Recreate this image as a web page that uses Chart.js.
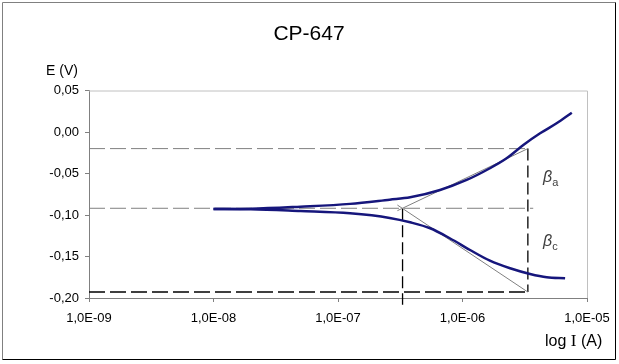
<!DOCTYPE html>
<html>
<head>
<meta charset="utf-8">
<script src="https://cdn.jsdelivr.net/npm/chart.js@4.4.1/dist/chart.umd.min.js"></script>
<style>
  html, body { margin: 0; padding: 0; background: #ffffff; }
  canvas { display: block; }
</style>
</head>
<body>
<canvas id="c" width="619" height="364"></canvas>
<script>
// ---- data ----
const xTicks = [1e-9, 1e-8, 1e-7, 1e-6, 1e-5];
const xTickLabels = ['1,0E-09', '1,0E-08', '1,0E-07', '1,0E-06', '1,0E-05'];
const yTicks = [-0.20, -0.15, -0.10, -0.05, 0.00, 0.05];
const yTickLabels = ['-0,20', '-0,15', '-0,10', '-0,05', '0,00', '0,05'];

// anodic branch (upper curve)
const anodicI = [1.0e-8, 2.0e-8, 5.0e-8, 1.25e-7, 2.6e-7, 3.8e-7, 6.6e-7, 1.08e-6, 1.66e-6, 2.26e-6, 3.08e-6, 4.2e-6, 5.7e-6, 7.55e-6];
const anodicE = [-0.0928, -0.0925, -0.0900, -0.0866, -0.0815, -0.0787, -0.0699, -0.0578, -0.0437, -0.0317, -0.0157, -0.0016, 0.0105, 0.0233];
// cathodic branch (lower curve)
const cathodicI = [1.0e-8, 2.0e-8, 5.0e-8, 1.25e-7, 2.6e-7, 3.8e-7, 5.5e-7, 7.9e-7, 1.15e-6, 1.66e-6, 2.41e-6, 3.49e-6, 4.75e-6, 6.67e-6];
const cathodicE = [-0.0928, -0.0930, -0.0952, -0.0980, -0.1035, -0.1088, -0.1160, -0.1280, -0.1422, -0.1551, -0.1642, -0.1711, -0.1751, -0.1763];

// Tafel construction
const tafelAnodicI = [3.0e-7, 3.35e-6];
const tafelAnodicE = [-0.0948, -0.0200];
const tafelCathodicI = [3.0e-7, 3.35e-6];
const tafelCathodicE = [-0.0880, -0.1928];
const hUpperI = [1e-9, 3.35e-6];   const hUpperE = [-0.0200, -0.0200];
const hMiddleI = [1e-9, 3.7e-6];   const hMiddleE = [-0.0919, -0.0919];
const hLowerI = [1e-9, 3.35e-6];   const hLowerE = [-0.1928, -0.1928];
const vLeftI = [3.3e-7, 3.3e-7];   const vLeftE = [-0.0919, -0.2080];
const vRightI = [3.35e-6, 3.35e-6]; const vRightE = [-0.0200, -0.1928];

function pts(xs, ys) { return xs.map((x, i) => ({ x: x, y: ys[i] })); }

const FONT = '"Liberation Sans", Arial, sans-serif';

function lineDS(xs, ys, color, width, dash, order, opts) {
  return Object.assign({
    data: pts(xs, ys), showLine: true, borderColor: color, borderWidth: width,
    borderDash: dash || [], pointRadius: 0, pointHoverRadius: 0, fill: false,
    tension: 0, order: order
  }, opts || {});
}

const decorPlugin = {
  id: 'decor',
  afterDraw(chart) {
    const ctx = chart.ctx;
    const a = chart.chartArea;
    ctx.save();
    // plot area top/right border
    ctx.strokeStyle = '#c0c0c0';
    ctx.lineWidth = 1;
    ctx.beginPath();
    ctx.moveTo(a.left, a.top + 0.5);
    ctx.lineTo(a.right + 0.5, a.top + 0.5);
    ctx.lineTo(a.right + 0.5, a.bottom);
    ctx.stroke();
    // outer chart border
    ctx.strokeStyle = '#808080';
    ctx.beginPath();
    ctx.moveTo(2.5, 359.5); ctx.lineTo(2.5, 2.5); ctx.lineTo(615.5, 2.5);
    ctx.stroke();
    ctx.strokeStyle = '#000000';
    ctx.beginPath();
    ctx.moveTo(615.5, 2.5); ctx.lineTo(615.5, 359.5); ctx.lineTo(2.5, 359.5);
    ctx.stroke();
    // title
    ctx.fillStyle = '#000000';
    ctx.textAlign = 'center';
    ctx.textBaseline = 'alphabetic';
    ctx.font = '21px ' + FONT;
    ctx.fillText('CP-647', 309, 40);
    // y axis title
    ctx.font = '14px ' + FONT;
    ctx.fillText('E (V)', 62, 75);
    // x axis title
    ctx.textAlign = 'left';
    ctx.font = '16px ' + FONT;
    let x0 = 545;
    ctx.fillText('log ', x0, 346);
    x0 += ctx.measureText('log ').width;
    ctx.font = '17px "Liberation Serif", serif';
    ctx.fillText('I', x0, 346);
    x0 += ctx.measureText('I').width;
    ctx.font = '16px ' + FONT;
    ctx.fillText(' (A)', x0, 346);
    // beta labels
    ctx.fillStyle = '#404040';
    const bx = 543;
    ctx.font = 'italic 16px ' + FONT;
    ctx.fillText('\u03B2', bx, 182);
    ctx.fillText('\u03B2', bx, 246);
    const bw = ctx.measureText('\u03B2').width;
    ctx.font = '11px ' + FONT;
    ctx.fillText('a', bx + bw, 186);
    ctx.fillText('c', bx + bw, 250);
    ctx.restore();
  }
};

const smooth = { cubicInterpolationMode: 'monotone' };

new Chart(document.getElementById('c'), {
  type: 'scatter',
  data: {
    datasets: [
      lineDS(anodicI, anodicE, '#16167c', 2.5, null, 0, smooth),
      lineDS(cathodicI, cathodicE, '#16167c', 2.5, null, 0, smooth),
      lineDS(tafelAnodicI, tafelAnodicE, '#808080', 1, null, 1),
      lineDS(tafelCathodicI, tafelCathodicE, '#808080', 1, null, 1),
      lineDS(hUpperI, hUpperE, '#808080', 1, [16, 5], 2),
      lineDS(hMiddleI, hMiddleE, '#808080', 1, [16, 5], 2),
      lineDS(hLowerI, hLowerE, '#000000', 1.3, [16, 5], 2),
      lineDS(vLeftI, vLeftE, '#000000', 1.3, [12, 5], 2, { clip: false }),
      lineDS(vRightI, vRightE, '#000000', 1.3, [12, 5], 2)
    ]
  },
  options: {
    responsive: false,
    animation: false,
    devicePixelRatio: 1,
    layout: { padding: { top: 90.5, right: 32, bottom: 0, left: 0 } },
    plugins: { legend: { display: false }, tooltip: { enabled: false }, title: { display: false } },
    scales: {
      x: {
        type: 'logarithmic',
        min: 1e-9, max: 1e-5,
        afterBuildTicks(scale) { scale.ticks = xTicks.map(v => ({ value: v, major: true })); },
        afterFit(scale) { scale.height = 66; },
        ticks: {
          autoSkip: false, maxRotation: 0, minRotation: 0,
          color: '#000000', padding: 9,
          font: { family: FONT, size: 13 },
          callback(value, index) { return xTickLabels[index]; }
        },
        grid: { drawOnChartArea: false, drawTicks: true, tickLength: 4, color: '#808080' },
        border: { display: true, color: '#808080', width: 1 }
      },
      y: {
        type: 'linear',
        min: -0.2, max: 0.05,
        afterBuildTicks(scale) { scale.ticks = yTicks.map(v => ({ value: v })); },
        afterFit(scale) { scale.width = 89; },
        ticks: {
          autoSkip: false, color: '#000000', padding: 6,
          font: { family: FONT, size: 13 },
          callback(value, index) { return yTickLabels[index]; }
        },
        grid: { drawOnChartArea: false, drawTicks: true, tickLength: 4, color: '#808080' },
        border: { display: true, color: '#808080', width: 1 }
      }
    }
  },
  plugins: [decorPlugin]
});
</script>
</body>
</html>
